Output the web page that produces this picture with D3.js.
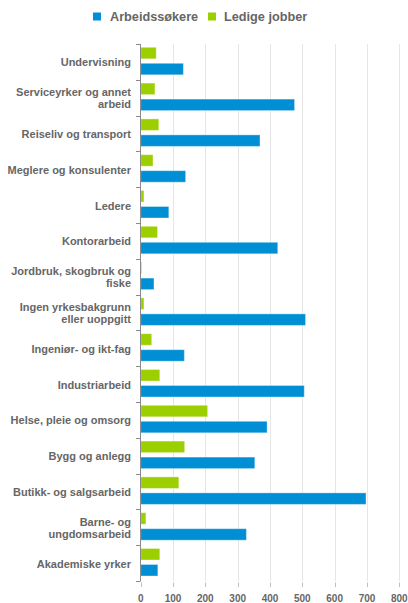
<!DOCTYPE html>
<html><head><meta charset="utf-8">
<script src="https://cdn.jsdelivr.net/npm/d3@7"></script>
<style>body{margin:0;background:#fff}svg{display:block;font-family:"Liberation Sans",Arial,sans-serif}</style>
</head><body><svg id="c" width="408" height="603"></svg>
<script>
const categories = ["Undervisning","Serviceyrker og annet arbeid","Reiseliv og transport","Meglere og konsulenter","Ledere","Kontorarbeid","Jordbruk, skogbruk og fiske","Ingen yrkesbakgrunn eller uoppgitt","Ingeniør- og ikt-fag","Industriarbeid","Helse, pleie og omsorg","Bygg og anlegg","Butikk- og salgsarbeid","Barne- og ungdomsarbeid","Akademiske yrker"];
const labelLines = [["Undervisning"],["Serviceyrker og annet","arbeid"],["Reiseliv og transport"],["Meglere og konsulenter"],["Ledere"],["Kontorarbeid"],["Jordbruk, skogbruk og","fiske"],["Ingen yrkesbakgrunn","eller uoppgitt"],["Ingeniør- og ikt-fag"],["Industriarbeid"],["Helse, pleie og omsorg"],["Bygg og anlegg"],["Butikk- og salgsarbeid"],["Barne- og","ungdomsarbeid"],["Akademiske yrker"]];
const arbeidssokere = [132,476,369,139,87,424,41,510,135,506,391,353,697,327,53];
const ledigeJobber = [48,44,56,38,10,52,3,10,34,59,207,136,118,16,59];
const seriesNames = ["Arbeidssøkere","Ledige jobber"];
const xTicks = [0,100,200,300,400,500,600,700,800];
const colors = {"Arbeidssøkere":"#008fd5","Ledige jobber":"#9ccf00"};

const svg = d3.select("#c");
const x = d3.scaleLinear().domain([0,800]).range([140.7,399.3]);
const y = d3.scaleBand().domain(categories).range([44,581]).padding(0);
const inner = d3.scaleBand().domain(["Ledige jobber","Arbeidssøkere"]).range([3.3,30.8]).paddingInner(0.28);

// gridlines
svg.append("g").selectAll("line").data(xTicks.slice(1)).join("line")
  .attr("x1",d=>Math.round(x(d))+0.5).attr("x2",d=>Math.round(x(d))+0.5)
  .attr("y1",44).attr("y2",581).attr("stroke","#e6e6e6").attr("stroke-width",1);

// bars
const rows = categories.map((c,i)=>({c, a:arbeidssokere[i], l:ledigeJobber[i]}));
const g = svg.append("g");
rows.forEach(r=>{
  [["Ledige jobber",r.l],["Arbeidssøkere",r.a]].forEach(([s,v])=>{
    g.append("rect").attr("x",x(0)).attr("y",y(r.c)+inner(s))
      .attr("width",Math.max(0,x(v)-x(0))).attr("height",inner.bandwidth())
      .attr("fill",colors[s]).attr("stroke","rgba(255,255,255,0.35)").attr("stroke-width",1);
  });
});

// y axis line and ticks
svg.append("line").attr("x1",140.5).attr("x2",140.5).attr("y1",44).attr("y2",581).attr("stroke","#8a8a8a");
const bounds = categories.map(c=>y(c)).concat([581]);
svg.append("g").selectAll("line").data(bounds).join("line")
  .attr("x1",136).attr("x2",140.5).attr("y1",d=>Math.round(d)+0.5).attr("y2",d=>Math.round(d)+0.5)
  .attr("stroke","#8a8a8a");

// y labels
categories.forEach((c,i)=>{
  const lines = labelLines[i];
  const cy = y(c)+y.bandwidth()/2;
  const t = svg.append("text").attr("text-anchor","end").attr("fill","#666")
    .attr("font-size","11px").attr("font-weight","bold");
  lines.forEach((ln,j)=>{
    t.append("tspan").attr("x",131).attr("y",cy + (j-(lines.length-1)/2)*12 + 4.5).text(ln);
  });
});

// x ticks
svg.append("g").selectAll("line").data(xTicks).join("line")
  .attr("x1",d=>Math.round(x(d))+0.5).attr("x2",d=>Math.round(x(d))+0.5)
  .attr("y1",582.5).attr("y2",587).attr("stroke","#c0c0c0");
svg.append("g").selectAll("text").data(xTicks).join("text")
  .attr("x",d=>x(d)).attr("y",602).attr("text-anchor","middle")
  .attr("fill","#666").attr("font-size","10px").attr("font-weight","bold").text(d=>d);

// legend
const leg = [{n:"Arbeidssøkere",sx:93,tx:110},{n:"Ledige jobber",sx:208,tx:224}];
leg.forEach(l=>{
  svg.append("rect").attr("x",l.sx).attr("y",12.5).attr("width",8).attr("height",8).attr("fill",colors[l.n]);
  svg.append("text").attr("x",l.tx).attr("y",21).attr("fill","#666").attr("font-size","12.7px").attr("font-weight","bold").text(l.n);
});
</script></body></html>
